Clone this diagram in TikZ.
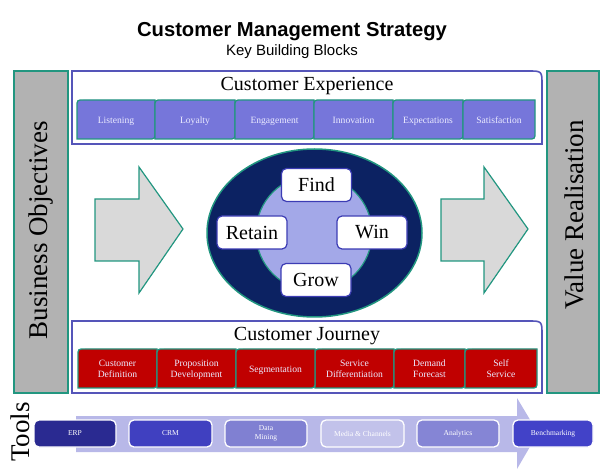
\documentclass[tikz,border=0pt]{standalone}
\usepackage{fontspec}
\setmainfont{Liberation Serif}
\newfontfamily\headfont{Liberation Sans}
\definecolor{tealline}{RGB}{34,150,128}
\definecolor{bargray}{RGB}{178,178,178}
\definecolor{framepurple}{RGB}{85,85,185}
\definecolor{ceblue}{RGB}{118,118,218}
\definecolor{cjred}{RGB}{192,0,0}
\definecolor{navy}{RGB}{12,34,98}
\definecolor{lilac}{RGB}{163,168,232}
\definecolor{arrowgray}{RGB}{217,217,217}
\definecolor{toolarrow}{RGB}{184,184,232}
\definecolor{cornerblue}{RGB}{60,60,180}
% block with rounded top-left and bottom-right corners
\newcommand\blockpath[5]{\draw[#1] (#2,#3+7) .. controls (#2,#3) .. (#2+7,#3) -- (#4,#3) -- (#4,#5-7) .. controls (#4,#5) .. (#4-7,#5) -- (#2,#5) -- cycle;}

\begin{document}
\begin{tikzpicture}[x=1pt,y=-1pt,
  sidebar/.style={draw=tealline, line width=1.5pt, fill=bargray},
  sidetext/.style={rotate=90, anchor=east, inner sep=0pt, font=\fontsize{27}{30}\selectfont},
  frame/.style={draw=framepurple, line width=1.6pt, fill=white},
  frametitle/.style={anchor=base, font=\fontsize{20}{22}\selectfont},
  ceblock/.style={draw=tealline, line width=1.3pt, fill=ceblue},
  cjblock/.style={draw=tealline, line width=1.3pt, fill=cjred},
  blocktext/.style={align=center, text=white!92!blue, font=\fontsize{9.6}{11.2}\selectfont},
  bigarrow/.style={draw=tealline, line width=1.2pt, fill=arrowgray},
  stage/.style={draw=cornerblue, line width=1.2pt, fill=white, rounded corners=5pt,
    minimum width=70pt, minimum height=33pt, font=\fontsize{20}{22}\selectfont},
  toolbox/.style={draw=white, line width=1.3pt, rounded corners=5pt, minimum height=27pt,
    text=white, align=center, font=\fontsize{7.5}{9.5}\selectfont}]
\useasboundingbox (0,0) rectangle (600,470);

% Titles
\node[anchor=base, font=\headfont\bfseries\fontsize{20.2}{22}\selectfont] (title) at (292,36.7) {Customer Management Strategy};
\node[anchor=base, font=\headfont\fontsize{15}{17}\selectfont] (subtitle) at (292,55.7) {Key Building Blocks};

% Side bars
\draw[sidebar] (14,71) rectangle (68,393);
\node[sidetext] (bizobj) at (41,121) {Business Objectives};
\draw[sidebar] (547,71) rectangle (599,393);
\node[sidetext] (valreal) at (574,120) {Value Realisation};

% Customer experience
\draw[frame] (72,71) -- (528,71) .. controls (542,71) .. (542,85) -- (542,144) -- (72,144) -- cycle;
\node[frametitle] (cexp) at (307,90.7) {Customer Experience};
\foreach \name/\xa/\xb/\txt in {listen/77/155/Listening, loyal/155/235/Loyalty,
    engage/235/314/Engagement, innov/314/393/Innovation,
    expect/393/463/Expectations, satisf/463/535/Satisfaction}{
  \blockpath{ceblock}{\xa}{100}{\xb}{139}
  \node[blocktext, anchor=base] (\name) at ({(\xa+\xb)/2},123.3) {\txt};
}

% Customer journey
\draw[frame] (72,321) -- (528,321) .. controls (542,321) .. (542,335) -- (542,393) -- (72,393) -- cycle;
\node[frametitle] (cjour) at (307,340.7) {Customer Journey};
\foreach \name/\xa/\xb/\txt in {custdef/78/157/{Customer\\Definition}, propdev/157/236/{Proposition\\Development},
    servdiff/315/394/{Service\\Differentiation},
    demand/394/465/{Demand\\Forecast}, selfserv/465/537/{Self\\Service}}{
  \blockpath{cjblock}{\xa}{349}{\xb}{388}
  \node[blocktext, anchor=base] (\name) at ({(\xa+\xb)/2},377.7) {\txt};
}
\blockpath{cjblock}{236}{349}{315}{388}
\node[blocktext, anchor=base] (segment) at (275.5,372.3) {Segmentation};

% Flow arrows
\draw[bigarrow] (95,199) -- (139,199) -- (139,167) -- (183,229) -- (139,293) -- (139,261) -- (95,261) -- cycle;
\draw[bigarrow] (441,199) -- (484,199) -- (484,167) -- (528,229) -- (484,293) -- (484,261) -- (441,261) -- cycle;

% Central cycle
\draw[draw=tealline, line width=1.5pt, fill=navy] (314.5,233) ellipse (107.5 and 84);
\draw[draw=tealline, line width=1.2pt, fill=lilac] (314,233) circle (58);
\node[stage] (find) at (316.5,185) {Find};
\node[stage] (retain) at (252,232.5) {Retain};
\node[stage] (win) at (372,232.5) {Win};
\node[stage] (grow) at (316,280) {Grow};

% Tools
\node[rotate=90, inner sep=0pt, font=\fontsize{27}{30}\selectfont] (tools) at (20,432) {Tools};
\fill[toolarrow] (76,416) -- (517,416) -- (517,398) -- (538,433) -- (517,469) -- (517,452) -- (76,452) -- cycle;
\node[toolbox, fill={rgb,255:red,42;green,42;blue,145}, minimum width=82pt] (erp) at (75,433.5) {ERP};
\node[toolbox, fill={rgb,255:red,64;green,64;blue,192}, minimum width=83pt] (crm) at (170.5,433.5) {CRM};
\node[toolbox, fill={rgb,255:red,128;green,128;blue,210}, minimum width=82pt] (datamin) at (266,433.5) {Data\\Mining};
\node[toolbox, fill={rgb,255:red,194;green,194;blue,234}, minimum width=83pt] (media) at (362.5,433.5) {Media \& Channels};
\node[toolbox, fill={rgb,255:red,133;green,133;blue,213}, minimum width=82pt] (analyt) at (458,433.5) {Analytics};
\node[toolbox, fill={rgb,255:red,66;green,66;blue,200}, minimum width=80pt] (bench) at (553,433.5) {Benchmarking};
\end{tikzpicture}
\end{document}
